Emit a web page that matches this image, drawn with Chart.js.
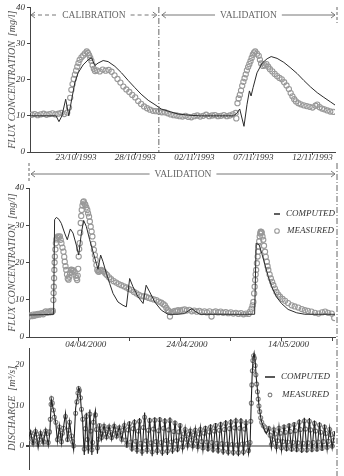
<!DOCTYPE html>
<html lang="en">
<head>
  <meta charset="UTF-8" />
  <title>Flux concentration and discharge</title>
  <script src="https://cdn.jsdelivr.net/npm/chart.js"></script>
  <style>
    body { margin: 0; background: #fff; }
    .wrap { position: relative; width: 344px; height: 476px; overflow: hidden; }
    canvas { position: absolute; left: 0; top: 0; }
  </style>
</head>
<body>
  <div class="wrap">
    <canvas id="c1" width="344" height="476"></canvas>
    <canvas id="c2" width="344" height="476"></canvas>
    <canvas id="c3" width="344" height="476"></canvas>
  </div>

  <script>
    // ---- 1993 event (days counted from 23/10/1993) ----
    const ticks93 = [0, 5, 10, 15, 20];
    const labels93 = ['23/10/1993', '28/10/1993', '02/11/1993', '07/11/1993', '12/11/1993'];
    const splitDay93 = 7; // end of calibration period

    const fluxComputed93 = [
      [-3.9, 10], [-1.7, 10], [-1.45, 8.4], [-1.2, 10], [-0.88, 14.6], [-0.62, 10], [-0.4, 14.1],
      [-0.11, 19.1], [0.17, 21.9], [0.59, 24.1], [1.02, 25.5], [1.3, 26.1], [1.58, 23.9], [1.86, 24.6],
      [2.29, 25.3], [2.71, 25.0], [3.28, 23.7], [3.84, 21.9], [4.4, 19.8], [4.97, 17.8], [5.5, 16.0],
      [6.1, 14.3], [6.67, 13.1], [7.2, 11.9], [8.08, 11.0], [8.64, 10.5], [9.5, 10.2], [10.5, 10.0],
      [12, 10.0], [13.3, 10.0], [13.6, 10.7], [13.84, 11.9], [14.2, 7.1], [14.46, 13.2], [14.66, 16.9],
      [14.8, 15.5], [14.97, 17.8], [15.3, 21.9], [15.74, 24.6], [16.16, 25.8], [16.5, 26.4], [17.0, 25.9],
      [17.57, 24.8], [18.1, 23.4], [18.7, 21.7], [19.26, 19.8], [19.83, 18.0], [20.4, 16.4], [20.96, 15.1],
      [21.5, 13.9], [21.9, 13.0]
    ];

    const fluxMeasured93 = [
      [-3.75, 10.3], [-3.5, 10.5], [-3.25, 10.2], [-3.0, 10.4], [-2.75, 10.6], [-2.5, 10.3], [-2.25, 10.5],
      [-2.0, 10.7], [-1.75, 10.4], [-1.5, 10.6], [-1.25, 10.8], [-1.0, 10.5], [-0.75, 10.9], [-0.6, 12.3],
      [-0.5, 15.0], [-0.4, 17.2], [-0.3, 18.8], [-0.2, 20.2], [-0.1, 21.4], [0.0, 22.5], [0.1, 23.6],
      [0.2, 24.6], [0.3, 25.5], [0.45, 26.2], [0.6, 26.7], [0.75, 27.3], [0.9, 27.8], [1.0, 27.4],
      [1.1, 26.8], [1.2, 26.0], [1.3, 25.2], [1.4, 24.0], [1.5, 23.0], [1.6, 22.4], [1.75, 22.6],
      [2.0, 22.3], [2.25, 22.8], [2.5, 22.5], [2.75, 22.7], [3.0, 22.2], [3.25, 21.2], [3.5, 20.2],
      [3.75, 19.2], [4.0, 18.1], [4.25, 17.3], [4.5, 16.6], [4.75, 15.8], [5.0, 15.1], [5.25, 14.1],
      [5.5, 13.3], [5.75, 12.6], [6.0, 12.1], [6.25, 11.7], [6.5, 11.4], [6.75, 11.3], [7.0, 11.2],
      [7.25, 11.0], [7.5, 11.0], [7.75, 10.7], [8.0, 10.4], [8.25, 10.2], [8.5, 10.1], [8.75, 9.9],
      [9.0, 9.8], [9.25, 10.0], [9.5, 9.7], [9.75, 9.6], [10.0, 9.9], [10.25, 10.1], [10.5, 9.8],
      [10.75, 10.0], [11.0, 10.3], [11.25, 9.9], [11.5, 10.1], [11.75, 10.2], [12.0, 9.9], [12.25, 10.0],
      [12.5, 10.2], [12.75, 9.9], [13.0, 10.1], [13.25, 10.4], [13.5, 10.8], [13.55, 9.3], [13.65, 13.5],
      [13.75, 14.8], [13.85, 15.8], [13.95, 17.0], [14.05, 18.3], [14.15, 19.4], [14.25, 20.4], [14.35, 21.5],
      [14.45, 22.6], [14.55, 23.5], [14.65, 24.3], [14.75, 25.1], [14.85, 26.0], [14.95, 26.9], [15.05, 27.5],
      [15.15, 27.8], [15.3, 27.2], [15.45, 26.6], [15.55, 25.5], [15.65, 24.5], [15.8, 23.8], [15.95, 24.0],
      [16.1, 24.3], [16.25, 23.6], [16.4, 22.9], [16.6, 22.3], [16.8, 21.6], [17.0, 21.0], [17.2, 20.5],
      [17.4, 20.1], [17.6, 19.3], [17.8, 18.4], [18.0, 17.4], [18.15, 16.3], [18.3, 15.4], [18.45, 14.6],
      [18.6, 14.0], [18.8, 13.5], [19.0, 13.2], [19.25, 12.9], [19.5, 12.7], [19.75, 12.5], [20.0, 12.3],
      [20.25, 12.8], [20.4, 13.1], [20.6, 12.4], [20.8, 12.0], [21.0, 11.8], [21.25, 11.5], [21.5, 11.2],
      [21.75, 11.1]
    ];

    // ---- 2000 event (days counted from 04/04/2000 tick) ----
    const ticks2000 = [0, 10, 20, 30, 40, 50];
    const labels2000 = ['04/04/2000', '', '24/04/2000', '', '14/05/2000', ''];

    const fluxComputed2000 = [
      [-9.8, 5.9], [-7, 6.0], [-4.95, 6.1], [-4.75, 31.5], [-4.4, 32.1], [-3.9, 31.6], [-3.43, 30.5],
      [-2.77, 27.9], [-2.25, 26.1], [-1.65, 29.0], [-1.12, 27.9], [-0.47, 24.7], [0, 22.0], [0.53, 27.9],
      [0.98, 31.3], [1.5, 29.7], [2.17, 26.1], [2.82, 22.9], [3.47, 19.8], [3.8, 18.2], [4.33, 22.0],
      [4.8, 20.2], [5.45, 17.1], [6.1, 14.4], [6.77, 11.7], [7.75, 9.4], [8.74, 8.5], [9.4, 8.1],
      [10.05, 15.7], [10.7, 13.5], [11.7, 10.8], [12.7, 9.0], [13.3, 13.9], [14.0, 12.1], [15.0, 9.4],
      [16.3, 7.2], [17.6, 6.1], [19.6, 6.1], [20.9, 6.3], [21.6, 7.0], [22.3, 7.6], [22.9, 7.0],
      [23.9, 6.1], [34.7, 6.1], [35.0, 25.2], [35.6, 24.7], [36.1, 22.5], [36.75, 19.3], [37.4, 16.2],
      [38.07, 13.5], [39.0, 10.8], [40.0, 9.0], [41.3, 7.4], [43.0, 6.5], [44.6, 6.1], [50.55, 6.1]
    ];

    const fluxMeasured2000 = [
      [-9.75, 5.5], [-9.5, 5.8], [-9.25, 5.6], [-9.0, 6.0], [-8.75, 5.7], [-8.5, 6.1], [-8.25, 5.9],
      [-8.0, 6.2], [-7.75, 6.0], [-7.5, 6.3], [-7.25, 6.4], [-7.0, 6.1], [-6.75, 6.6], [-6.5, 6.9],
      [-6.25, 6.5], [-6.0, 6.8], [-5.75, 6.6], [-5.5, 7.0], [-5.25, 6.7], [-5.1, 7.0], [-5.0, 9.9],
      [-4.95, 11.8], [-4.9, 13.5], [-4.85, 15.8], [-4.8, 18.0], [-4.75, 20.0], [-4.7, 21.6], [-4.6, 23.5],
      [-4.5, 25.2], [-4.4, 26.2], [-4.25, 26.6], [-4.1, 27.0], [-3.9, 26.8], [-3.7, 27.0], [-3.55, 26.1],
      [-3.4, 25.2], [-3.2, 24.0], [-3.0, 22.9], [-2.85, 21.5], [-2.75, 20.2], [-2.6, 19.0], [-2.45, 18.0],
      [-2.3, 16.8], [-2.15, 15.7], [-2.0, 15.4], [-1.85, 16.2], [-1.7, 17.2], [-1.55, 18.0], [-1.4, 18.1],
      [-1.2, 17.8], [-1.0, 17.9], [-0.8, 17.4], [-0.6, 16.5], [-0.45, 15.8], [-0.3, 15.3], [-0.2, 16.5],
      [-0.1, 18.3], [0.0, 21.6], [0.1, 23.6], [0.2, 25.2], [0.3, 28.0], [0.4, 30.6], [0.5, 32.5],
      [0.6, 34.1], [0.75, 35.3], [0.9, 36.2], [1.0, 36.4], [1.15, 35.8], [1.3, 35.5], [1.5, 34.8],
      [1.7, 34.1], [1.85, 33.2], [2.04, 32.3], [2.2, 31.0], [2.37, 29.6], [2.55, 28.3], [2.7, 27.0],
      [2.85, 25.0], [3.0, 23.4], [3.2, 22.0], [3.35, 20.7], [3.5, 19.3], [3.67, 18.0], [3.85, 17.6],
      [4.0, 17.5], [4.25, 17.8], [4.47, 18.0], [4.75, 17.7], [5.0, 17.5], [5.3, 17.0], [5.6, 16.6],
      [6.0, 16.0], [6.4, 15.5], [6.9, 15.0], [7.4, 14.6], [7.9, 14.2], [8.4, 13.9], [8.9, 13.6],
      [9.4, 13.3], [9.9, 12.9], [10.4, 12.6], [10.9, 12.1], [11.4, 11.7], [11.9, 11.3], [12.4, 11.0],
      [12.9, 10.9], [13.3, 10.8], [13.8, 10.5], [14.3, 10.3], [14.8, 10.1], [15.3, 9.9], [15.8, 9.5],
      [16.3, 9.2], [16.7, 8.8], [17.0, 8.5], [17.3, 7.8], [17.6, 7.2], [17.8, 6.9], [18.0, 5.5],
      [18.3, 6.6], [18.6, 6.8], [19.0, 7.0], [19.3, 6.9], [19.6, 7.2], [20.0, 7.0], [20.4, 7.3],
      [20.9, 7.4], [21.3, 7.1], [21.8, 7.3], [22.3, 6.9], [22.8, 7.1], [23.3, 6.8], [23.8, 7.0],
      [24.3, 6.7], [24.8, 6.9], [25.3, 6.6], [25.8, 6.9], [26.2, 5.5], [26.6, 6.7], [27.0, 6.9],
      [27.5, 6.6], [28.0, 6.8], [28.5, 6.5], [29.0, 6.7], [29.5, 6.4], [30.0, 6.6], [30.5, 6.3],
      [31.0, 6.5], [31.5, 6.2], [32.0, 6.4], [32.5, 6.1], [33.0, 6.3], [33.5, 6.2], [33.8, 6.8],
      [34.1, 7.6], [34.3, 8.5], [34.45, 9.4], [34.6, 11.7], [34.7, 13.5], [34.8, 15.3], [34.9, 16.8],
      [35.0, 18.0], [35.15, 19.8], [35.3, 21.6], [35.4, 22.9], [35.5, 24.3], [35.6, 25.7], [35.7, 27.0],
      [35.8, 27.8], [35.9, 28.3], [36.0, 28.2], [36.1, 28.0], [36.25, 27.0], [36.4, 26.1], [36.55, 24.5],
      [36.75, 22.9], [36.9, 21.5], [37.1, 20.2], [37.25, 19.0], [37.4, 18.0], [37.65, 16.8], [37.9, 15.7],
      [38.15, 14.8], [38.4, 13.9], [38.7, 13.0], [39.0, 12.1], [39.35, 11.4], [39.7, 10.8], [40.2, 10.2],
      [40.7, 9.7], [41.3, 9.1], [42.0, 8.5], [42.6, 8.2], [43.3, 7.9], [44.0, 7.5], [44.6, 7.2],
      [45.2, 7.0], [45.9, 6.8], [46.6, 6.5], [47.3, 6.3], [48.0, 6.6], [48.6, 6.8], [49.2, 6.5],
      [49.9, 6.3], [50.4, 5.1]
    ];

    const dischargeComputed2000 = [
      [-9.8, 2.0], [-9.5, 3.6], [-9.0, 0.2], [-8.5, 3.9], [-8.0, -0.5], [-7.5, 3.5], [-7.0, 0.4],
      [-6.5, 4.0], [-6.0, 0.1], [-5.7, 3.0], [-5.4, 11.5], [-5.1, 9.5], [-4.8, 7.8], [-4.5, 5.4],
      [-4.2, 1.0], [-3.8, 5.0], [-3.4, 0.5], [-3.0, 4.5], [-2.6, 8.0], [-2.2, 1.0], [-1.8, 6.0],
      [-1.4, 2.0], [-1.0, -1.0], [-0.6, 9.3], [-0.3, 11.6], [0.0, 14.3], [0.25, 13.5], [0.5, 9.3],
      [0.75, 6.9], [1.1, -2.3], [1.5, 8.1], [1.9, -2.0], [2.2, 8.9], [2.6, -2.3], [2.9, 6.2],
      [3.3, 8.7], [3.7, -2.0], [4.1, 5.4], [4.5, 1.5], [5.0, 5.2], [5.5, 1.8], [6.0, 5.0], [6.5, 1.5],
      [7.0, 5.3], [7.5, 2.0], [8.0, 4.8], [8.5, 1.2], [9.0, 5.5], [9.5, -0.5], [10.0, 6.0], [10.5, -1.5],
      [11.0, 6.5], [11.5, -2.0], [12.0, 6.8], [12.5, -2.5], [13.0, 8.2], [13.5, -2.0], [14.0, 6.9],
      [14.5, -2.6], [15.0, 7.0], [15.5, -2.2], [16.0, 7.1], [16.5, -2.5], [17.0, 6.8], [17.5, -2.3],
      [18.0, 7.0], [18.5, -2.0], [19.0, 6.2], [19.5, -1.6], [20.0, 5.5], [20.5, -1.0], [21.0, 4.4],
      [21.5, -0.4], [22.0, 4.0], [22.5, -0.6], [23.0, 4.3], [23.5, -0.9], [24.0, 4.6], [24.5, -1.2],
      [25.0, 4.9], [25.5, -1.5], [26.0, 5.3], [26.5, -1.7], [27.0, 5.6], [27.5, -2.0], [28.0, 5.9],
      [28.5, -2.2], [29.0, 6.3], [29.5, -2.4], [30.0, 6.6], [30.5, -2.5], [31.0, 6.9], [31.5, -2.6],
      [32.0, 6.8], [32.5, -2.4], [33.0, 6.5], [33.5, -2.0], [33.8, 0.0], [34.0, 9.4], [34.2, 17.1],
      [34.4, 21.7], [34.6, 22.9], [34.8, 21.0], [35.0, 17.1], [35.3, 13.2], [35.6, 9.4], [36.0, 6.2],
      [36.5, 4.3], [37.0, 3.0], [37.5, 4.5], [38.0, -0.5], [38.5, 4.3], [39.0, -1.0], [39.5, 4.8],
      [40.0, -1.2], [40.5, 5.2], [41.0, -1.4], [41.5, 5.5], [42.0, -1.5], [42.5, 5.8], [43.0, -1.6],
      [43.5, 6.5], [44.0, -1.8], [44.5, 6.9], [45.0, -1.7], [45.5, 6.8], [46.0, -1.6], [46.5, 6.2],
      [47.0, -1.5], [47.5, 5.8], [48.0, -1.3], [48.5, 5.2], [49.0, -1.0], [49.5, 4.5], [50.0, -0.6],
      [50.5, 3.5]
    ];

    const dischargeMeasured2000 = [
      [-9.75, 1.8], [-9.5, 3.2], [-9.0, 0.8], [-8.5, 3.5], [-8.0, 0.3], [-7.5, 3.0], [-7.0, 1.0],
      [-6.5, 3.6], [-6.0, 0.8], [-5.75, 3.4], [-5.6, 6.5], [-5.45, 10.2], [-5.35, 11.6], [-5.2, 10.5],
      [-5.0, 8.8], [-4.8, 7.0], [-4.5, 5.8], [-4.2, 1.5], [-3.8, 4.6], [-3.4, 1.0], [-3.0, 4.3],
      [-2.6, 7.2], [-2.2, 1.5], [-1.8, 5.8], [-1.4, 2.4], [-1.0, 0.0], [-0.6, 8.0], [-0.35, 10.8],
      [-0.15, 13.0], [0.0, 14.1], [0.15, 13.6], [0.35, 11.8], [0.55, 9.0], [0.8, 6.5], [1.1, -0.8],
      [1.5, 7.2], [1.9, -0.5], [2.2, 7.8], [2.6, -1.0], [2.9, 5.8], [3.3, 7.6], [3.7, -0.5], [4.1, 5.0],
      [4.5, 2.0], [5.0, 4.8], [5.5, 2.2], [6.0, 4.6], [6.5, 2.0], [7.0, 4.8], [7.5, 2.4], [8.0, 4.4],
      [8.5, 1.6], [9.0, 5.0], [9.5, 0.2], [10.0, 5.4], [10.5, -0.6], [11.0, 5.8], [11.5, -1.0],
      [12.0, 6.0], [12.5, -1.4], [13.0, 7.0], [13.5, -1.0], [14.0, 6.2], [14.5, -1.5], [15.0, 6.3],
      [15.5, -1.2], [16.0, 6.4], [16.5, -1.5], [17.0, 6.0], [17.5, -1.3], [18.0, 6.2], [18.5, -1.0],
      [19.0, 5.6], [19.5, -0.8], [20.0, 5.0], [20.5, -0.3], [21.0, 4.0], [21.5, 0.2], [22.0, 3.6],
      [22.5, 0.0], [23.0, 3.8], [23.5, -0.2], [24.0, 4.0], [24.5, -0.5], [25.0, 4.3], [25.5, -0.7],
      [26.0, 4.6], [26.5, -0.9], [27.0, 5.0], [27.5, -1.1], [28.0, 5.2], [28.5, -1.3], [29.0, 5.5],
      [29.5, -1.5], [30.0, 5.8], [30.5, -1.6], [31.0, 6.1], [31.5, -1.7], [32.0, 6.0], [32.5, -1.5],
      [33.0, 5.6], [33.5, -1.2], [33.8, 0.8], [33.95, 6.0], [34.05, 10.5], [34.15, 15.0], [34.25, 18.5],
      [34.35, 21.0], [34.5, 22.2], [34.65, 21.6], [34.8, 19.8], [34.95, 17.5], [35.1, 15.2], [35.25, 13.3],
      [35.4, 11.5], [35.55, 9.8], [35.7, 8.4], [35.9, 6.9], [36.1, 5.8], [36.4, 5.0], [36.7, 4.6],
      [37.0, 3.8], [37.5, 4.2], [38.0, 0.3], [38.5, 3.9], [39.0, -0.2], [39.5, 4.3], [40.0, -0.5],
      [40.5, 4.6], [41.0, -0.7], [41.5, 4.9], [42.0, -0.8], [42.5, 5.2], [43.0, -0.9], [43.5, 5.8],
      [44.0, -1.0], [44.5, 6.1], [45.0, -1.0], [45.5, 6.0], [46.0, -0.9], [46.5, 5.5], [47.0, -0.8],
      [47.5, 5.1], [48.0, -0.6], [48.5, 4.6], [49.0, -0.4], [49.5, 4.0], [50.0, -0.1], [50.4, 3.0]
    ];

    // hourly readings between the daily highs and lows
    const dischargeMeasuredMid2000 = [
      [-9.25, 2.4], [-8.75, 1.2], [-8.25, 2.9], [-7.75, 1.5], [-7.25, 2.2], [-6.75, 0.9], [-6.25, 3.0],
      [-3.6, 2.6], [-3.2, 3.1], [-2.0, 3.8], [-1.2, 1.0],
      [1.3, 4.2], [1.7, 1.5], [2.4, 3.6], [2.75, 0.8], [3.5, 4.0], [3.9, 1.6], [4.3, 3.1], [4.75, 3.7],
      [5.25, 2.9], [5.75, 4.1], [6.25, 3.3], [6.75, 2.8], [7.25, 3.9], [7.75, 3.0], [8.25, 2.6], [8.75, 3.8],
      [9.25, 1.4], [9.75, 3.9], [10.25, 0.9], [10.75, 4.2], [11.25, 1.1], [11.75, 3.6], [12.25, 0.6],
      [12.75, 4.5], [13.25, 1.2], [13.75, 3.8], [14.25, 0.7], [14.75, 4.1], [15.25, 1.0], [15.75, 3.7],
      [16.25, 0.8], [16.75, 4.3], [17.25, 1.3], [17.75, 3.9], [18.25, 0.9], [18.75, 3.5], [19.25, 1.2],
      [19.75, 3.4], [20.25, 1.5], [20.75, 2.9], [21.25, 1.6], [21.75, 2.8], [22.25, 1.4], [22.75, 2.6],
      [23.25, 1.2], [23.75, 2.9], [24.25, 1.0], [24.75, 3.1], [25.25, 0.9], [25.75, 3.4], [26.25, 0.8],
      [26.75, 3.6], [27.25, 0.6], [27.75, 3.8], [28.25, 0.5], [28.75, 4.0], [29.25, 0.4], [29.75, 4.2],
      [30.25, 0.3], [30.75, 4.4], [31.25, 0.2], [31.75, 4.3], [32.25, 0.4], [32.75, 4.1], [33.25, 0.6],
      [37.75, 2.6], [38.25, 1.5], [38.75, 2.9], [39.25, 1.2], [39.75, 3.1], [40.25, 1.0], [40.75, 3.3],
      [41.25, 0.9], [41.75, 3.5], [42.25, 0.8], [42.75, 3.7], [43.25, 0.7], [43.75, 4.0], [44.25, 0.6],
      [44.75, 4.1], [45.25, 0.7], [45.75, 3.9], [46.25, 0.8], [46.75, 3.6], [47.25, 0.9], [47.75, 3.3],
      [48.25, 1.0], [48.75, 3.0], [49.25, 1.1], [49.75, 2.7], [50.25, 1.3]
    ];

    const fluxTicks = [0, 10, 20, 30, 40];
    const dischargeTicks = [0, 10, 20];

    // ---- shared styling ----
    const FONT = "'Liberation Serif', 'Times New Roman', serif";
    const INK = '#333';
    const LINE = '#2b2b2b';
    const DOTS = '#999';

    const xy = pairs => pairs.map(p => ({ x: p[0], y: p[1] }));
    const setTicks = values => scale => { scale.ticks = values.map(v => ({ value: v })); };

    function computedSet(pairs, color, width) {
      return { label: 'COMPUTED', data: xy(pairs), borderColor: color || LINE, borderWidth: width || 1,
               pointRadius: 0, tension: 0 };
    }
    function measuredSet(pairs, r, color) {
      return { label: 'MEASURED', data: xy(pairs), showLine: false, pointRadius: r,
               pointBorderColor: color || DOTS, pointBackgroundColor: 'rgba(255,255,255,0)', pointBorderWidth: 1.1 };
    }

    function xScale(min, max, tickVals, tickLabels, extra) {
      return Object.assign({
        type: 'linear', min: min, max: max,
        afterBuildTicks: setTicks(tickVals),
        afterFit: s => { s.height = 14; },
        grid: { drawOnChartArea: false, tickLength: 3, tickColor: '#444' },
        border: { color: '#444', width: 1 },
        ticks: { autoSkip: false, maxRotation: 0, color: INK, padding: -3,
                 font: { family: FONT, style: 'italic', size: 9 },
                 callback: (v, i) => tickLabels[i] }
      }, extra || {});
    }

    function yScale(min, max, tickVals, title, width, extra) {
      return Object.assign({
        min: min, max: max,
        afterBuildTicks: setTicks(tickVals),
        afterFit: s => { s.width = width; },
        grid: { drawOnChartArea: false, tickLength: 3, tickColor: '#444' },
        border: { color: '#444', width: 1 },
        ticks: { color: INK, padding: 2, font: { family: FONT, style: 'italic', size: 9 } },
        title: { display: true, text: title, color: '#555', padding: { top: 6, bottom: 0 },
                 font: { family: FONT, style: 'italic', size: 10 } }
      }, extra || {});
    }

    function baseOptions(padding) {
      return {
        responsive: false, animation: false, events: [],
        layout: { padding: padding },
        plugins: { legend: { display: false }, tooltip: { enabled: false } }
      };
    }

    // double arrow with a label in the middle
    function arrowSpan(ctx, x1, x2, y, text, dashed) {
      ctx.save();
      ctx.strokeStyle = '#777';
      ctx.fillStyle = '#666';
      ctx.lineWidth = 1;
      ctx.font = '9.5px ' + FONT;
      const w = ctx.measureText(text).width;
      const mid = (x1 + x2) / 2;
      ctx.setLineDash(dashed ? [4, 3] : []);
      ctx.beginPath();
      ctx.moveTo(x1, y); ctx.lineTo(mid - w / 2 - 5, y);
      ctx.moveTo(mid + w / 2 + 5, y); ctx.lineTo(x2, y);
      ctx.stroke();
      ctx.setLineDash([]);
      ctx.beginPath();
      ctx.moveTo(x1 + 4, y - 3); ctx.lineTo(x1, y); ctx.lineTo(x1 + 4, y + 3);
      ctx.moveTo(x2 - 4, y - 3); ctx.lineTo(x2, y); ctx.lineTo(x2 - 4, y + 3);
      ctx.stroke();
      ctx.textAlign = 'center';
      ctx.textBaseline = 'middle';
      ctx.fillText(text, mid, y + 0.5);
      ctx.restore();
    }

    function vLine(ctx, x, y1, y2, dash) {
      ctx.save();
      ctx.strokeStyle = '#666';
      ctx.lineWidth = 1;
      ctx.setLineDash(dash);
      ctx.beginPath();
      ctx.moveTo(x, y1); ctx.lineTo(x, y2);
      ctx.stroke();
      ctx.restore();
    }

    function drawLegend(chart, mx, y1, y2, len, r) {
      const ctx = chart.ctx;
      const sets = chart.data.datasets;
      ctx.save();
      ctx.strokeStyle = sets[0].borderColor; ctx.lineWidth = 1.5;
      ctx.beginPath(); ctx.moveTo(mx - len / 2, y1); ctx.lineTo(mx + len / 2, y1); ctx.stroke();
      ctx.strokeStyle = sets[1].pointBorderColor; ctx.lineWidth = 1.1;
      ctx.beginPath(); ctx.arc(mx, y2, r, 0, Math.PI * 2); ctx.stroke();
      ctx.fillStyle = INK;
      ctx.font = 'italic 9px ' + FONT;
      ctx.textBaseline = 'middle';
      ctx.fillText(sets[0].label, mx + len / 2 + 6, y1);
      ctx.fillText(sets[1].label, mx + len / 2 + 7, y2);
      ctx.restore();
    }

    const dashDot = [6, 2, 1, 2];

    // ---- panel 1 : calibration / validation 1993 ----
    new Chart(document.getElementById('c1'), {
      type: 'line',
      data: { datasets: [computedSet(fluxComputed93), measuredSet(fluxMeasured93, 2.6)] },
      options: Object.assign(baseOptions({ top: 5, right: 9, bottom: 310, left: 0 }), {
        scales: {
          x: xScale(-3.9, 21.9, ticks93, labels93),
          y: yScale(0, 40, fluxTicks, 'FLUX CONCENTRATION  [mg/l]', 30)
        }
      }),
      plugins: [{
        id: 'periods93',
        afterDraw(chart) {
          const a = chart.chartArea;
          const xs = chart.scales.x;
          const split = xs.getPixelForValue(splitDay93);
          vLine(chart.ctx, split, 7, a.bottom, dashDot);
          vLine(chart.ctx, a.right + 2, 7, 23, [3, 2]);
          arrowSpan(chart.ctx, a.left + 1, split - 2, 15, 'CALIBRATION', true);
          arrowSpan(chart.ctx, split + 3, a.right, 15, 'VALIDATION', false);
        }
      }]
    });

    // ---- panel 2 : flux concentration 2000 ----
    new Chart(document.getElementById('c2'), {
      type: 'line',
      data: { datasets: [computedSet(fluxComputed2000), measuredSet(fluxMeasured2000, 2.6)] },
      options: Object.assign(baseOptions({ top: 188, right: 9, bottom: 125, left: 0 }), {
        scales: {
          x: xScale(-9.8, 50.55, ticks2000, labels2000, {
            grid: { drawOnChartArea: false, tickLength: 4, tickColor: '#444' },
            ticks: { autoSkip: false, maxRotation: 0, color: INK, padding: -2, labelOffset: 7,
                     font: { family: FONT, style: 'italic', size: 9 },
                     callback: (v, i) => labels2000[i] }
          }),
          y: yScale(0, 40, fluxTicks, 'FLUX CONCENTRATION  [mg/l]', 29)
        }
      }),
      plugins: [{
        id: 'validation2000',
        afterDraw(chart) {
          const a = chart.chartArea;
          vLine(chart.ctx, a.left, 163, 182, [3, 2]);
          vLine(chart.ctx, a.right + 2, 163, 476, dashDot);
          arrowSpan(chart.ctx, a.left + 2, a.right, 174, 'VALIDATION', false);
          drawLegend(chart, 277, 214, 231, 6, 2.3);
        }
      }]
    });

    // ---- panel 3 : discharge 2000 ----
    new Chart(document.getElementById('c3'), {
      type: 'line',
      data: { datasets: [
        computedSet(dischargeComputed2000, '#222', 1.1),
        measuredSet(dischargeMeasured2000.concat(dischargeMeasuredMid2000), 2.0, '#808080')
      ] },
      options: Object.assign(baseOptions({ top: 348, right: 9, bottom: 0, left: 0 }), {
        scales: {
          x: xScale(-9.8, 50.55, ticks2000, labels2000, {
            afterFit: s => { s.height = 0; },
            grid: { display: false },
            border: { display: false },
            ticks: { autoSkip: false, maxRotation: 0, color: INK, padding: -13, labelOffset: 7,
                     font: { family: FONT, style: 'italic', size: 9 },
                     callback: (v, i) => labels2000[i] }
          }),
          y: yScale(-5.65, 24.1, dischargeTicks, 'DISCHARGE  [m\u00B3/s]', 29, {
            grid: {
              drawOnChartArea: true, tickLength: 3, tickColor: '#444',
              color: c => (c.tick && c.tick.value === 0 ? '#9a9a9a' : 'rgba(0,0,0,0)'),
              lineWidth: c => (c.tick && c.tick.value === 0 ? 2 : 0)
            }
          })
        }
      }),
      plugins: [{
        id: 'legendDischarge',
        afterDraw(chart) {
          drawLegend(chart, 270, 377, 395, 10, 1.9);
        }
      }]
    });
  </script>
</body>
</html>
